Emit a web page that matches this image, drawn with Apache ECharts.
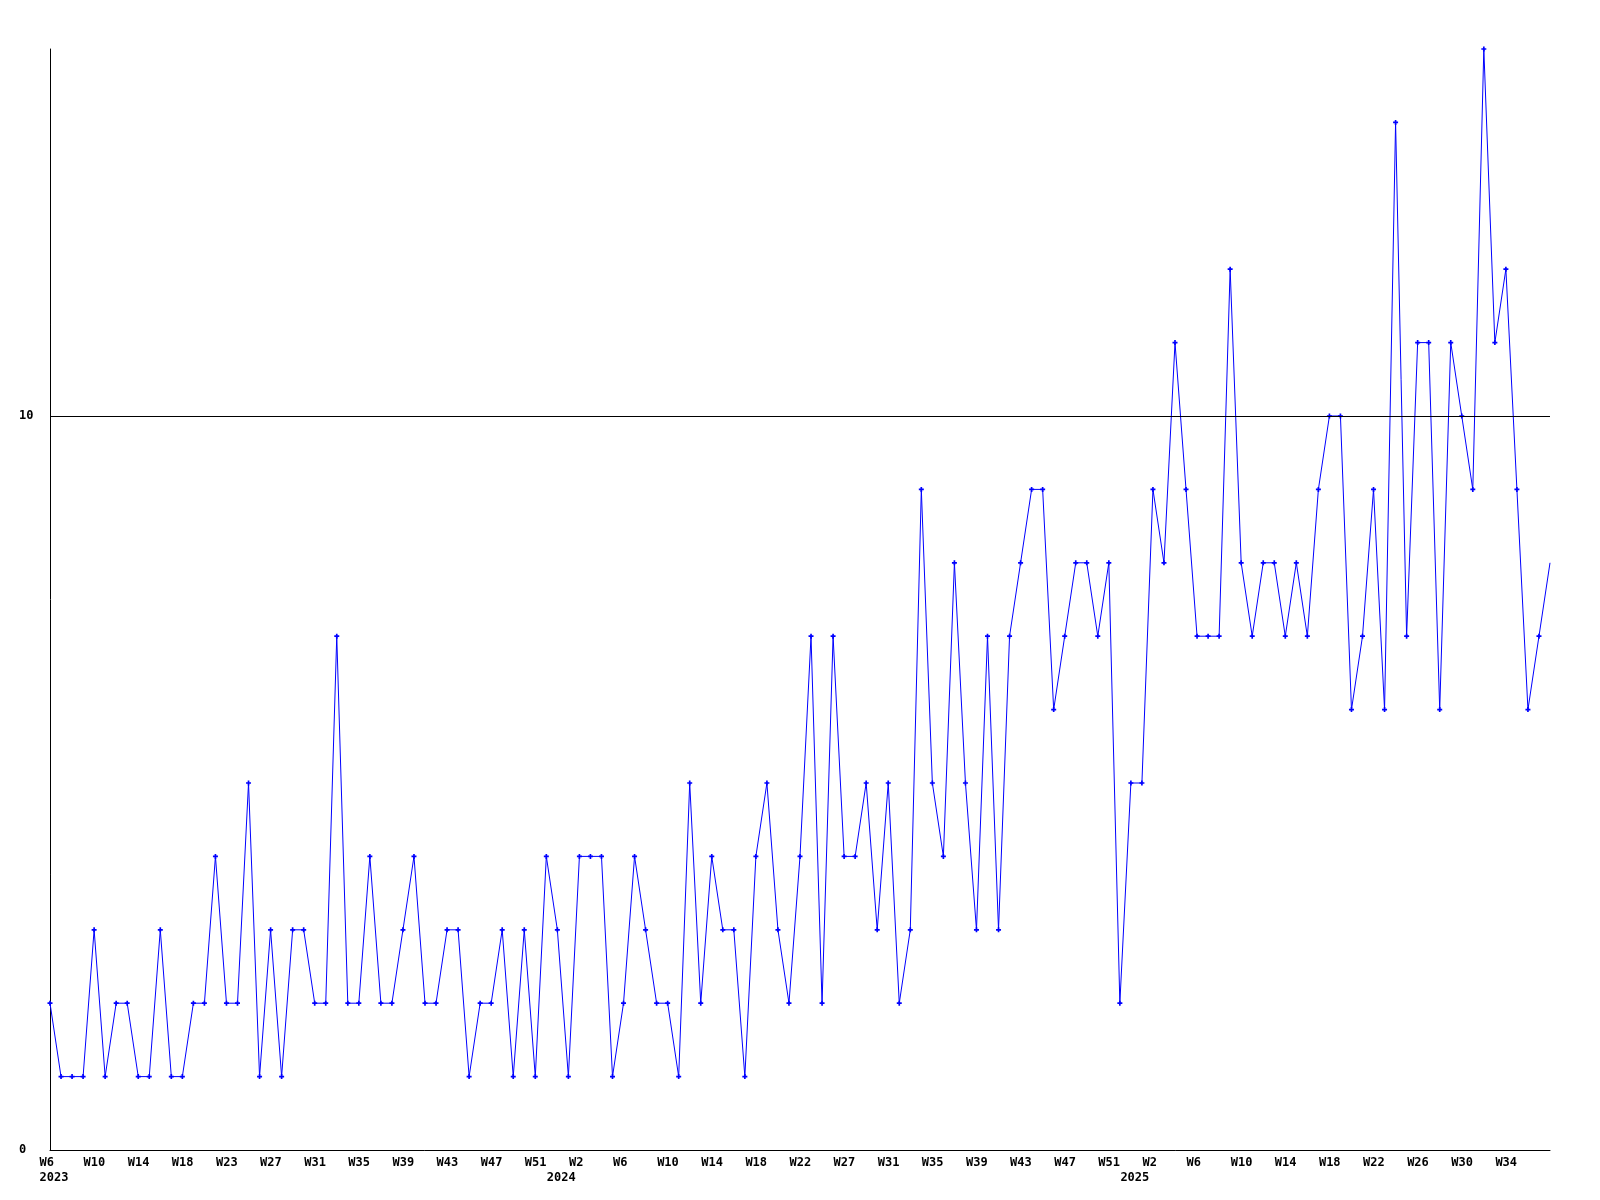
<!DOCTYPE html>
<html>
<head>
<meta charset="utf-8">
<script src="https://cdn.jsdelivr.net/npm/echarts@6/dist/echarts.min.js"></script>
<style>
html,body{margin:0;padding:0;background:#fff;}
#chart{width:1600px;height:1200px;}
</style>
</head>
<body>
<div id="chart"></div>
<script>
// Weekly values, 2023 W6 .. 2025 W38
const values = [
  2,1,1,1,3,1,2,2,1,1,3,1,1,2,2,4,2,2,5,1,3,1,3,3,2,2,7,2,2,4,2,2,3,4,2,2,3,
  3,1,2,2,3,1,3,1,4,3,1,4,4,4,1,2,4,3,2,2,1,5,2,4,3,3,1,4,5,3,2,4,7,2,7,4,
  4,5,3,5,2,3,9,5,4,8,5,3,7,3,7,8,9,9,6,7,8,8,7,8,2,5,5,9,8,11,9,7,7,7,12,8,
  7,8,8,7,8,7,9,10,10,6,7,9,6,14,7,11,11,6,11,10,9,15,11,12,9,6,7,8
];
// Week tick labels and the point index they sit at
const tickIndex = [0,4,8,12,16,20,24,28,32,36,40,44,48,52,56,60,64,68,72,76,80,84,88,92,96,100,104,108,112,116,120,124,128,132];
const tickLabels = ['W6','W10','W14','W18','W23','W27','W31','W35','W39','W43','W47','W51',
  'W2','W6','W10','W14','W18','W22','W27','W31','W35','W39','W43','W47','W51',
  'W2','W6','W10','W14','W18','W22','W26','W30','W34'];
// Year labels
const yearIndex = [0,46,98];
const yearLabels = ['2023','2024','2025'];
// Y axis labels shown
const yTickLabels = [0,10];
const refLineValue = 10;

const categories = values.map((v,i)=>String(i));
const font = {fontFamily:'DejaVu Sans Mono', fontWeight:'bold', fontSize:12, color:'#000'};

const chart = echarts.init(document.getElementById('chart'), null, {renderer:'canvas'});
const seriesData = values.map((v,i)=> i === values.length-1 ? {value:v, symbolSize:0} : v);

chart.setOption({
  animation:false,
  backgroundColor:'#fff',
  grid:{left:50, right:50, top:49, bottom:50, containLabel:false},
  xAxis:[{
    type:'category', data:categories, boundaryGap:false,
    axisLine:{show:true, lineStyle:{color:'#000', width:1}},
    axisTick:{show:false},
    splitLine:{show:false},
    axisLabel:Object.assign({
      show:true, align:'left', margin:7, padding:[0,0,0,-10.5],
      interval:(idx)=>tickIndex.indexOf(idx)>=0,
      formatter:(val,idx)=>{const k=tickIndex.indexOf(idx); return k>=0?tickLabels[k]:'';}
    }, font)
  },{
    type:'category', data:categories, boundaryGap:false, position:'bottom', offset:15,
    axisLine:{show:false}, axisTick:{show:false}, splitLine:{show:false},
    axisLabel:Object.assign({
      show:true, align:'left', margin:7, padding:[0,0,0,-10.5],
      interval:(idx)=>yearIndex.indexOf(idx)>=0,
      formatter:(val,idx)=>{const k=yearIndex.indexOf(idx); return k>=0?yearLabels[k]:'';}
    }, font)
  }],
  yAxis:{
    type:'value', min:0, max:15, interval:5,
    axisLine:{show:true, lineStyle:{color:'#000', width:1}},
    axisTick:{show:false},
    splitLine:{show:false},
    axisLabel:Object.assign({
      align:'left', margin:31,
      formatter:(v)=> yTickLabels.indexOf(v)>=0 ? String(v) : ''
    }, font)
  },
  series:[{
    type:'line', data:seriesData, xAxisIndex:0,
    symbol:'path://M1,0H2V1H3V2H2V3H1V2H0V1H1Z', symbolSize:5, showAllSymbol:true,
    lineStyle:{color:'#0000ff', width:1},
    itemStyle:{color:'#0000ff'},
    clip:true,
    markLine:{
      silent:true, symbol:'none', label:{show:false},
      lineStyle:{color:'#000', width:1, type:'solid'},
      data:[{yAxis:refLineValue}]
    }
  }]
});
</script>
</body>
</html>
